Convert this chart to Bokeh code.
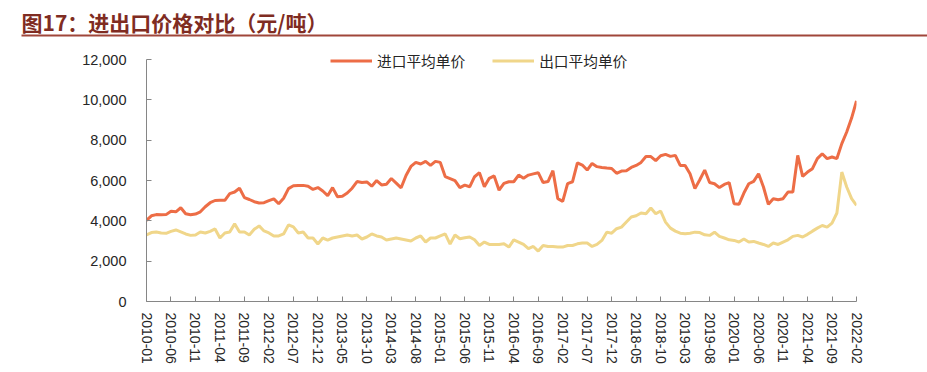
from bokeh.plotting import figure
from bokeh.layouts import column
from bokeh.models import (Range1d, FixedTicker, NumeralTickFormatter, Legend, LegendItem,
                          ColumnDataSource)
from bokeh.core.properties import value
from bokeh.embed import file_html
from bokeh.resources import INLINE

# ---- data ----
months = [f"{y}-{m:02d}" for y in range(2010, 2023) for m in range(1, 13)][:146]

import_price = [
    4020, 4250, 4310, 4300, 4310, 4480, 4450, 4650, 4350, 4300,
    4340, 4450, 4700, 4900, 5010, 5020, 5020, 5350, 5430, 5620,
    5150, 5060, 4950, 4890, 4900, 5000, 5090, 4850, 5120, 5600,
    5740, 5760, 5760, 5720, 5560, 5650, 5480, 5250, 5650, 5200,
    5220, 5380, 5620, 5950, 5900, 5930, 5720, 6000, 5780, 5820,
    6100, 5870, 5640, 6250, 6700, 6900, 6820, 6950, 6750, 6950,
    6900, 6200, 6100, 6000, 5650, 5770, 5690, 6190, 6390, 5690,
    6110, 6230, 5520, 5860, 5940, 5940, 6270, 6110, 6270, 6330,
    6390, 5900, 5950, 6490, 5100, 4970, 5850, 5940, 6880, 6770,
    6520, 6850, 6690, 6650, 6620, 6600, 6360, 6470, 6490, 6650,
    6750, 6900, 7190, 7190, 6990, 7230, 7300, 7200, 7250, 6750,
    6750, 6340, 5600, 6040, 6520, 5900, 5840, 5650, 5810, 5900,
    4850, 4820, 5380, 5840, 5960, 6340, 5680, 4820, 5100, 5050,
    5100, 5430, 5430, 7250, 6210, 6420, 6590, 7090, 7330, 7090,
    7170, 7090, 7830, 8410, 9100, 9950,
]

export_price = [
    3300, 3420, 3450, 3400, 3380, 3480, 3550, 3450, 3350, 3280,
    3300, 3450, 3400, 3480, 3600, 3150, 3400, 3450, 3850, 3450,
    3450, 3300, 3580, 3750, 3500, 3400, 3250, 3250, 3350, 3800,
    3700, 3400, 3450, 3150, 3150, 2850, 3150, 3050, 3150, 3200,
    3250, 3300, 3250, 3300, 3100, 3200, 3350, 3250, 3200, 3050,
    3100, 3150, 3100, 3050, 3000, 3150, 3250, 2950, 3150, 3150,
    3250, 3350, 2850, 3300, 3110, 3160, 3200, 3060, 2780, 2950,
    2830, 2830, 2830, 2860, 2700, 3060, 2950, 2830, 2620, 2730,
    2500, 2780, 2730, 2730, 2700, 2700, 2780, 2780, 2860, 2900,
    2900, 2730, 2830, 3030, 3440, 3390, 3610, 3690, 3940, 4190,
    4250, 4390, 4350, 4640, 4350, 4490, 3940, 3640, 3490, 3390,
    3360, 3390, 3440, 3420, 3310, 3280, 3440, 3230, 3150, 3060,
    3030, 2950, 3100, 2950, 2980, 2900, 2830, 2730, 2900, 2830,
    2950, 3060, 3230, 3280, 3200, 3330, 3490, 3640, 3770, 3690,
    3890, 4390, 6420, 5680, 5100, 4770,
]

series_names = ["进口平均单价", "出口平均单价"]
title_text = "图17：进出口价格对比（元/吨）"
y_ticks = [0, 2000, 4000, 6000, 8000, 10000, 12000]
x_tick_idx = list(range(0, len(months), 5))

RED = "#ED6D46"
YELLOW = "#F0D68A"
AXIS = "#868686"
TXT = "#262626"
TITLE_C = "#7F2C22"
RULE_C = "#A0463A"
CJK = "Noto Sans CJK SC"
LAT = "Liberation Sans"

W = 927
TH = 42      # title strip height
MH = 328     # main figure height

# ---- title strip (its own small figure, frame covering the whole canvas) ----
t = figure(width=W, height=TH, output_backend="svg", toolbar_location=None,
           x_range=Range1d(0, W), y_range=Range1d(TH, 0),
           x_axis_location=None, y_axis_location=None,
           min_border=0, min_border_left=0, min_border_right=0,
           min_border_top=0, min_border_bottom=0)
t.frame_align = False
t.grid.visible = False
t.outline_line_color = None
t.text(x=[21], y=[21], text=[title_text], text_font=value(CJK), text_font_style="bold",
       text_font_size="21px", text_color=TITLE_C, text_baseline="middle", text_align="left")
t.line(x=[21, W], y=[35, 35], line_color=RULE_C, line_width=2)

# ---- main chart ----
src = ColumnDataSource(dict(x=list(range(len(months))), imp=import_price, exp=export_price))

p = figure(width=W, height=MH, output_backend="svg", toolbar_location=None,
           x_range=Range1d(0, len(months) - 1), y_range=Range1d(0, 12600),
           min_border_left=146, min_border_right=W - 146 - 710,
           min_border_top=5, min_border_bottom=MH - 5 - 254)
p.frame_align = False
p.outline_line_color = None
p.grid.visible = False
p.background_fill_color = "white"

r1 = p.line("x", "imp", source=src, line_color=RED, line_width=3)
r2 = p.line("x", "exp", source=src, line_color=YELLOW, line_width=3)

xa = p.xaxis[0]
xa.ticker = FixedTicker(ticks=x_tick_idx)
xa.major_label_overrides = {i: months[i] for i in x_tick_idx}
xa.major_label_orientation = "vertical"
xa.major_label_text_font = LAT
xa.major_label_text_font_size = "14px"
xa.major_label_text_color = TXT
xa.major_label_standoff = 11
xa.axis_line_color = AXIS
xa.major_tick_line_color = AXIS
xa.major_tick_in = 5
xa.major_tick_out = 0
xa.minor_tick_line_color = None

ya = p.yaxis[0]
ya.ticker = FixedTicker(ticks=y_ticks)
ya.bounds = (0, 12000)
ya.formatter = NumeralTickFormatter(format="0,0")
ya.major_label_text_font = LAT
ya.major_label_text_font_size = "14.5px"
ya.major_label_text_color = TXT
ya.major_label_standoff = 20
ya.axis_line_color = AXIS
ya.major_tick_line_color = AXIS
ya.major_tick_in = 5
ya.major_tick_out = 0
ya.minor_tick_line_color = None

legend = Legend(items=[LegendItem(label=series_names[0], renderers=[r1]),
                       LegendItem(label=series_names[1], renderers=[r2])],
                orientation="horizontal", location=(184, 230),
                glyph_width=42, glyph_height=15, label_height=15, label_standoff=5,
                spacing=27, padding=0, margin=0,
                border_line_color=None, background_fill_alpha=0,
                label_text_font=CJK, label_text_font_size="14.7px", label_text_color=TXT)
p.add_layout(legend)

layout = column(t, p, spacing=0)
open("out.html", "w").write(file_html(layout, INLINE))
